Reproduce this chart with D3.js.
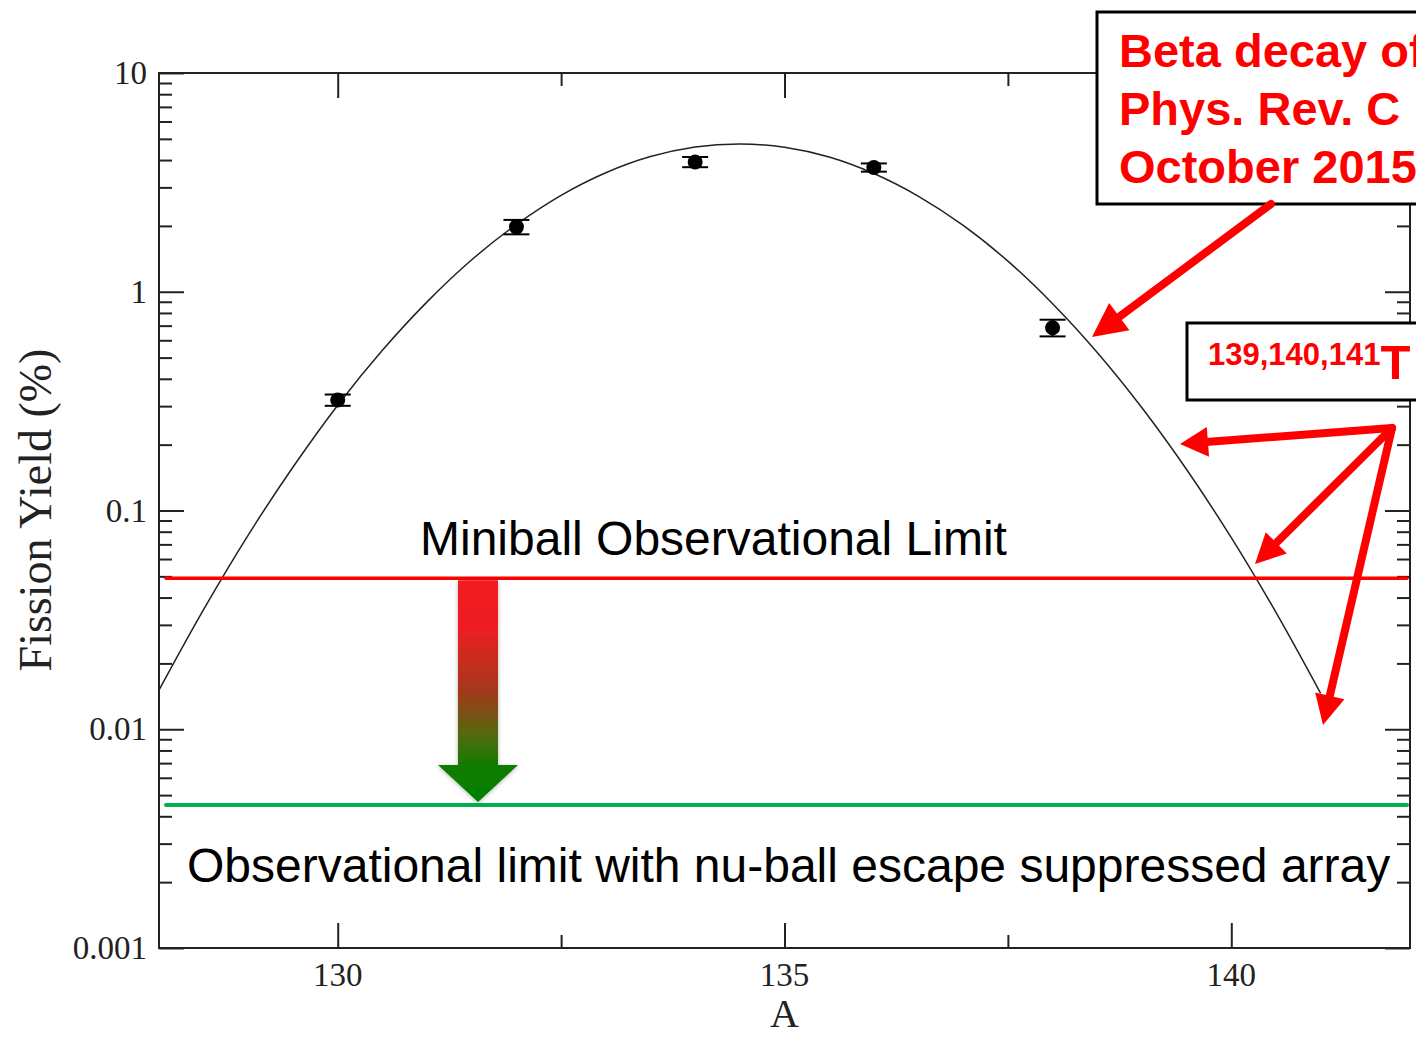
<!DOCTYPE html>
<html>
<head>
<meta charset="utf-8">
<script src="https://cdn.jsdelivr.net/npm/d3@7"></script>
<style>
  html, body { margin: 0; padding: 0; background: #fff; overflow: hidden; }
  svg { display: block; }
</style>
</head>
<body>
<svg id="chart" width="1416" height="1038"></svg>
<script>
// ---------------- data ----------------
const massA      = [130, 132, 134, 136, 138];
const yieldPct   = [0.32, 1.98, 3.92, 3.70, 0.685];
const yieldErr   = [0.019, 0.15, 0.21, 0.16, 0.06];

const fitA = [128, 128.5, 129, 129.5, 130, 130.5, 131, 131.5, 132, 132.5, 133, 133.5, 134, 134.5,
              135, 135.5, 136, 136.5, 137, 137.5, 138, 138.5, 139, 139.5, 140, 140.5, 141];
const fitY = [0.0151, 0.0353, 0.0774, 0.158, 0.303, 0.540, 0.899, 1.40, 2.03, 2.76, 3.50, 4.15, 4.59, 4.74,
              4.58, 4.13, 3.47, 2.73, 2.01, 1.38, 0.882, 0.528, 0.295, 0.154, 0.0751, 0.0342, 0.0146];

const xMajorTicks = [130, 135, 140];
const xMinorTicks = [132.5, 137.5];
const yMajorTicks = [0.001, 0.01, 0.1, 1, 10];
const yTickLabels = ["0.001", "0.01", "0.1", "1", "10"];

const miniballLimit = 0.049;
const nuballLimit   = 0.0045;

const boxLines1 = ["Beta decay of", "Phys. Rev. C", "October 2015"];
const boxSup2   = "139,140,141";
const boxMain2  = "T";

// ---------------- layout ----------------
const svg = d3.select("#chart");
const L = 159, R = 1410, T = 73, B = 948;
const x = d3.scaleLinear().domain([128, 142]).range([L, R]);
const y = d3.scaleLog().domain([0.001, 10]).range([B, T]);

const serif = "'Liberation Serif','Times New Roman',Times,serif";
const sans  = "'Liberation Sans',Arial,Helvetica,sans-serif";
const axisColor = "#222";

// minor log ticks
const yMinorTicks = [];
[0.001, 0.01, 0.1, 1].forEach(d => { for (let k = 2; k <= 9; k++) yMinorTicks.push(d * k); });

// ---------------- axes ----------------
const gAx = svg.append("g");
gAx.append("g").attr("transform", `translate(${L},0)`)
  .call(d3.axisRight(y).tickValues(yMajorTicks).tickSize(25).tickFormat(""))
  .call(g => g.select(".domain").remove());
gAx.append("g").attr("transform", `translate(${L},0)`)
  .call(d3.axisRight(y).tickValues(yMinorTicks).tickSize(13).tickFormat(""))
  .call(g => g.select(".domain").remove());
gAx.append("g").attr("transform", `translate(${R},0)`)
  .call(d3.axisLeft(y).tickValues(yMajorTicks).tickSize(25).tickFormat(""))
  .call(g => g.select(".domain").remove());
gAx.append("g").attr("transform", `translate(${R},0)`)
  .call(d3.axisLeft(y).tickValues(yMinorTicks).tickSize(13).tickFormat(""))
  .call(g => g.select(".domain").remove());
gAx.append("g").attr("transform", `translate(0,${B})`)
  .call(d3.axisTop(x).tickValues(xMajorTicks).tickSize(25).tickFormat(""))
  .call(g => g.select(".domain").remove());
gAx.append("g").attr("transform", `translate(0,${B})`)
  .call(d3.axisTop(x).tickValues(xMinorTicks).tickSize(13).tickFormat(""))
  .call(g => g.select(".domain").remove());
gAx.append("g").attr("transform", `translate(0,${T})`)
  .call(d3.axisBottom(x).tickValues(xMajorTicks).tickSize(25).tickFormat(""))
  .call(g => g.select(".domain").remove());
gAx.append("g").attr("transform", `translate(0,${T})`)
  .call(d3.axisBottom(x).tickValues(xMinorTicks).tickSize(13).tickFormat(""))
  .call(g => g.select(".domain").remove());
gAx.selectAll(".tick line").attr("stroke", axisColor).attr("stroke-width", 2);

// frame
svg.append("rect").attr("x", L).attr("y", T).attr("width", R - L).attr("height", B - T)
  .attr("fill", "none").attr("stroke", axisColor).attr("stroke-width", 2);

// tick labels
svg.append("g").selectAll("text").data(yMajorTicks).join("text")
  .attr("x", L - 12).attr("y", d => y(d)).attr("dy", "0.34em")
  .attr("text-anchor", "end").attr("font-family", serif).attr("font-size", 33).attr("fill", "#222")
  .text((d, i) => yTickLabels[i]);
svg.append("g").selectAll("text").data(xMajorTicks).join("text")
  .attr("x", d => x(d)).attr("y", 986)
  .attr("text-anchor", "middle").attr("font-family", serif).attr("font-size", 33).attr("fill", "#222")
  .text(d => d);

// axis titles
svg.append("text").attr("transform", "translate(51,510) rotate(-90)")
  .attr("text-anchor", "middle").attr("font-family", serif).attr("font-size", 46).attr("fill", "#222")
  .text("Fission Yield (%)");
svg.append("text").attr("x", x(135)).attr("y", 1027)
  .attr("text-anchor", "middle").attr("font-family", serif).attr("font-size", 40).attr("fill", "#222")
  .text("A");

// ---------------- fit curve ----------------
const line = d3.line().x(d => x(d[0])).y(d => y(d[1])).curve(d3.curveCatmullRom);
svg.append("path").datum(fitA.map((a, i) => [a, fitY[i]]))
  .attr("d", line).attr("fill", "none").attr("stroke", "#222").attr("stroke-width", 1.5);

// ---------------- data points ----------------
const gPts = svg.append("g");
massA.forEach((a, i) => {
  const cx = x(a), lo = y(yieldPct[i] - yieldErr[i]), hi = y(yieldPct[i] + yieldErr[i]);
  gPts.append("line").attr("x1", cx).attr("x2", cx).attr("y1", lo).attr("y2", hi)
    .attr("stroke", "#000").attr("stroke-width", 2);
  [lo, hi].forEach(yy => gPts.append("line").attr("x1", cx - 13).attr("x2", cx + 13)
    .attr("y1", yy).attr("y2", yy).attr("stroke", "#000").attr("stroke-width", 2));
  gPts.append("circle").attr("cx", cx).attr("cy", y(yieldPct[i])).attr("r", 7.5).attr("fill", "#000");
});

// ---------------- limit lines ----------------
svg.append("line").attr("x1", 166).attr("x2", 1407)
  .attr("y1", y(miniballLimit)).attr("y2", y(miniballLimit))
  .attr("stroke", "#ff0000").attr("stroke-width", 3.5).attr("stroke-linecap", "round");
svg.append("line").attr("x1", 166).attr("x2", 1407)
  .attr("y1", y(nuballLimit)).attr("y2", y(nuballLimit))
  .attr("stroke", "#00b050").attr("stroke-width", 4).attr("stroke-linecap", "round");

svg.append("text").attr("x", 420).attr("y", 555)
  .attr("font-family", sans).attr("font-size", 48).attr("fill", "#000")
  .text("Miniball Observational Limit");
svg.append("text").attr("x", 187).attr("y", 882)
  .attr("font-family", sans).attr("font-size", 48).attr("fill", "#000")
  .text("Observational limit with nu-ball escape suppressed array");

// ---------------- gradient arrow ----------------
const defs = svg.append("defs");
const yTop = y(miniballLimit) + 2, yTip = y(nuballLimit) - 3;
const grad = defs.append("linearGradient").attr("id", "gradArrow")
  .attr("gradientUnits", "userSpaceOnUse").attr("x1", 0).attr("x2", 0).attr("y1", yTop).attr("y2", yTip);
[[0, "#f21c24"], [0.22, "#ec1f22"], [0.5, "#a2391a"], [0.7, "#536a0c"], [0.84, "#107c02"], [1, "#008000"]]
  .forEach(s => grad.append("stop").attr("offset", s[0]).attr("stop-color", s[1]));
const filt = defs.append("filter").attr("id", "shadow").attr("x", -0.3).attr("y", -0.1).attr("width", 1.6).attr("height", 1.2);
filt.append("feDropShadow").attr("dx", 0).attr("dy", 1).attr("stdDeviation", 2).attr("flood-color", "#000").attr("flood-opacity", 0.3);
const ax0 = 478, shaftW = 40, headW = 80, headY = 765;
svg.append("path")
  .attr("d", `M${ax0 - shaftW / 2},${yTop} L${ax0 + shaftW / 2},${yTop} L${ax0 + shaftW / 2},${headY}
              L${ax0 + headW / 2},${headY} L${ax0},${yTip} L${ax0 - headW / 2},${headY}
              L${ax0 - shaftW / 2},${headY} Z`)
  .attr("fill", "url(#gradArrow)").attr("filter", "url(#shadow)");

// ---------------- annotation boxes ----------------
svg.append("rect").attr("x", 1097).attr("y", 12).attr("width", 340).attr("height", 192)
  .attr("fill", "#fff").attr("stroke", "#000").attr("stroke-width", 3);
boxLines1.forEach((t, i) => svg.append("text").attr("x", 1119).attr("y", 67 + i * 58)
  .attr("font-family", sans).attr("font-weight", "bold").attr("font-size", 47).attr("fill", "#ff0000").text(t));

svg.append("rect").attr("x", 1187).attr("y", 323).attr("width", 260).attr("height", 77)
  .attr("fill", "#fff").attr("stroke", "#000").attr("stroke-width", 3);
const t2 = svg.append("text").attr("x", 1208).attr("y", 379)
  .attr("font-family", sans).attr("font-weight", "bold").attr("fill", "#ff0000");
t2.append("tspan").attr("font-size", 31).attr("dy", -14).text(boxSup2);
t2.append("tspan").attr("font-size", 49).attr("dy", 14).text(boxMain2);

// ---------------- red arrows ----------------
function redArrow(x1, y1, x2, y2, w, hl, hw) {
  const dx = x2 - x1, dy = y2 - y1, len = Math.hypot(dx, dy);
  const ux = dx / len, uy = dy / len, px = -uy, py = ux;
  const bx = x2 - ux * hl, by = y2 - uy * hl;
  svg.append("line").attr("x1", x1).attr("y1", y1).attr("x2", bx + ux * 2).attr("y2", by + uy * 2)
    .attr("stroke", "#ff0000").attr("stroke-width", w).attr("stroke-linecap", "round");
  svg.append("path")
    .attr("d", `M${x2},${y2} L${bx + px * hw},${by + py * hw} L${bx - px * hw},${by - py * hw} Z`)
    .attr("fill", "#ff0000");
}
redArrow(1271, 204, 1092, 337, 8, 34, 17);
redArrow(1392, 428, 1180, 444, 8, 28, 15);
redArrow(1392, 428, 1255, 564, 8, 30, 15);
redArrow(1392, 428, 1323, 725, 8, 30, 15);
</script>
</body>
</html>
